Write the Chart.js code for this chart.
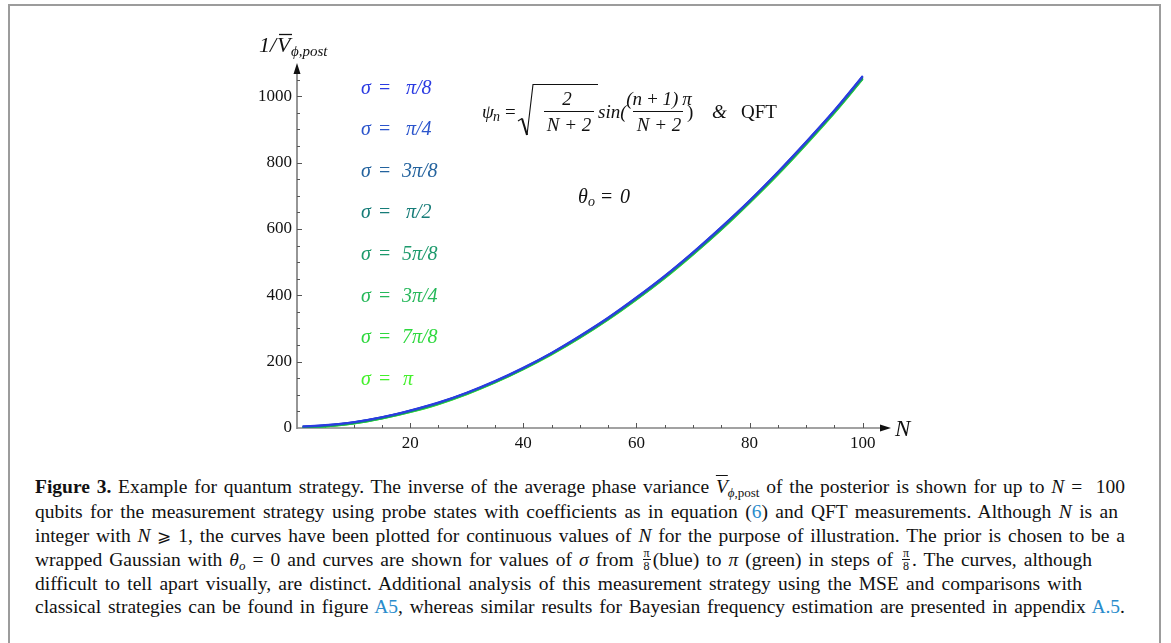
<!DOCTYPE html>
<html>
<head>
<meta charset="utf-8">
<script src="https://cdn.jsdelivr.net/npm/chart.js@4.4.1/dist/chart.umd.min.js"></script>
<style>
  html, body { margin:0; padding:0; background:#fff; width:1171px; height:643px; overflow:hidden; }
  #frame { position:absolute; left:8px; top:4px; width:1153px; height:700px; border:2px solid #9c9c9c; box-sizing:border-box; }
  #chart { position:absolute; left:0; top:0; }
  .cap { position:absolute; left:35px; font-family:"Liberation Serif", serif; font-size:19.5px; line-height:23px; color:#111;
         white-space:nowrap; text-align:justify; text-align-last:justify; }
  .cap i { font-style:italic; }
  .lk { color:#2a8ccc; }
  .ov { text-decoration:overline; font-style:italic; }
  .sub { font-size:13px; position:relative; top:4px; }
  .frac { display:inline-flex; flex-direction:column; align-items:center; vertical-align:middle; font-size:12px; line-height:12px; margin:0 2px; position:relative; top:-2px; }
  .frac span:first-child { border-bottom:1px solid #111; padding:0 1px; }
  .geq { font-family:"DejaVu Serif", serif; font-size:17px; }
</style>
</head>
<body>
<div id="frame"></div>
<canvas id="chart" width="1171" height="460"></canvas>

<div class="cap" style="top:475px;width:1090px;"><b>Figure 3.</b> Example for quantum strategy. The inverse of the average phase variance <span class="ov">V</span><span class="sub"><i>ϕ</i>,post</span> of the posterior is shown for up to <i>N</i> =&nbsp; 100</div>
<div class="cap" style="top:500px;width:1083px;">qubits for the measurement strategy using probe states with coefficients as in equation (<span class="lk">6</span>) and QFT measurements. Although <i>N</i> is an</div>
<div class="cap" style="top:524px;width:1090px;">integer with <i>N</i> <span class="geq">⩾</span> 1, the curves have been plotted for continuous values of <i>N</i> for the purpose of illustration. The prior is chosen to be a</div>
<div class="cap" style="top:548px;width:1057px;">wrapped Gaussian with <i>θ<span class="sub">o</span></i> = 0 and curves are shown for values of <i>σ</i> from <span class="frac"><span>π</span><span>8</span></span>(blue) to <i>π</i> (green) in steps of <span class="frac"><span>π</span><span>8</span></span>. The curves, although</div>
<div class="cap" style="top:572px;width:1047px;">difficult to tell apart visually, are distinct. Additional analysis of this measurement strategy using the MSE and comparisons with</div>
<div class="cap" style="top:595px;width:1090px;">classical strategies can be found in figure <span class="lk">A5</span>, whereas similar results for Bayesian frequency estimation are presented in appendix <span class="lk">A.5</span>.</div>

<script>
// ---- data ----
const N_VALUES = [1, 5, 10, 15, 20, 25, 30, 35, 40, 45, 50, 55, 60, 65, 70, 75, 80, 85, 90, 95, 100];
const SIGMA_LABELS = ['π/8', 'π/4', '3π/8', 'π/2', '5π/8', '3π/4', '7π/8', 'π'];
const SIGMA_COLORS = ['#2b3be2', '#2c55cc', '#24639e', '#167c78', '#1c9a6c', '#26b85a', '#2ed83e', '#44f02c'];
const sigmaPi8  = [5, 9, 18, 33, 53, 77, 107, 142, 182, 227, 278, 333, 394, 459, 530, 606, 686, 772, 863, 958, 1061];
const sigmaPi4  = [4.5, 8.5, 17.5, 32.5, 52.5, 76.5, 106, 141, 181, 226, 277, 332, 393, 458, 529, 605, 685, 771, 862, 957, 1060];
const sigma3Pi8 = [4, 8, 17, 32, 52, 76, 105.5, 140.5, 180.5, 225.5, 276, 331, 392, 457, 528, 604, 684, 770, 861, 956, 1059];
const sigmaPi2  = [3, 7, 16, 31, 51, 75, 105, 140, 180, 225, 275, 330, 391, 456, 527, 602, 683, 769, 860, 955, 1057];
const sigma5Pi8 = [2, 6, 15, 30, 50, 74, 104, 139, 179, 224, 274, 329, 390, 455, 525, 601, 681, 767, 858, 953, 1055];
const sigma3Pi4 = [1, 5, 14, 29, 49, 73, 103, 138, 178, 223, 273, 328, 388, 453, 524, 599, 680, 765, 856, 951, 1053];
const sigma7Pi8 = [0.5, 4.5, 13.5, 28.5, 48, 72, 102, 137, 177, 222, 272, 327, 387, 452, 523, 598, 679, 764, 855, 950, 1052];
const sigmaPi   = [0, 4, 13, 28, 47.5, 71.5, 101.5, 136.5, 176.5, 221, 271, 326, 386.5, 451, 522, 597, 678, 763, 854, 949, 1051];
const SERIES = [sigmaPi8, sigmaPi4, sigma3Pi8, sigmaPi2, sigma5Pi8, sigma3Pi4, sigma7Pi8, sigmaPi];
const X_TICKS = [20, 40, 60, 80, 100];
const Y_TICKS = [0, 200, 400, 600, 800, 1000];
const X_MAX = 105, Y_MAX = 1100;

const SERIF = '"Liberation Serif", "Times New Roman", serif';

const datasets = SERIES.map((vals, i) => ({
  label: 'σ = ' + SIGMA_LABELS[i],
  data: N_VALUES.map((n, k) => ({ x: n, y: vals[k] })),
  borderColor: SIGMA_COLORS[i],
  borderWidth: 1.8,
  pointRadius: 0,
  tension: 0.35,
  fill: false
}));

function txt(ctx, s, x, y, font, color, align) {
  ctx.font = font; ctx.fillStyle = color || '#111'; ctx.textAlign = align || 'left'; ctx.textBaseline = 'alphabetic';
  ctx.fillText(s, x, y);
}

const axesPlugin = {
  id: 'mathAxes',
  beforeDatasetsDraw(chart) {
    const { ctx, scales: { x, y } } = chart;
    const x0 = x.getPixelForValue(0), y0 = y.getPixelForValue(0);
    const xEnd = x.getPixelForValue(X_MAX), yTop = y.getPixelForValue(Y_MAX);
    ctx.save();
    ctx.strokeStyle = '#848484'; ctx.lineWidth = 1.7;
    ctx.beginPath();
    ctx.moveTo(x0, y0); ctx.lineTo(xEnd - 8, y0);
    ctx.moveTo(x0, y0 + 1); ctx.lineTo(x0, yTop + 8);
    ctx.stroke();
    ctx.strokeStyle = '#555'; ctx.lineWidth = 1;
    ctx.beginPath();
    for (let v = 5; v <= 100; v += 5) {
      const px = Math.round(x.getPixelForValue(v)) + 0.5;
      const len = X_TICKS.includes(v) ? 5 : 3;
      ctx.moveTo(px, y0); ctx.lineTo(px, y0 - len);
    }
    for (let v = 50; v <= 1050; v += 50) {
      const py = Math.round(y.getPixelForValue(v)) + 0.5;
      const len = Y_TICKS.includes(v) ? 5 : 3;
      ctx.moveTo(x0, py); ctx.lineTo(x0 + len, py);
    }
    ctx.stroke();
    ctx.fillStyle = '#111';
    ctx.beginPath();
    ctx.moveTo(xEnd, y0); ctx.lineTo(xEnd - 11, y0 - 3.5); ctx.lineTo(xEnd - 11, y0 + 3.5); ctx.closePath();
    ctx.moveTo(x0, yTop); ctx.lineTo(x0 - 3.5, yTop + 11); ctx.lineTo(x0 + 3.5, yTop + 11); ctx.closePath();
    ctx.fill();
    ctx.restore();
  },
  afterDraw(chart) {
    const { ctx } = chart;
    ctx.save();
    const it = 'italic 19px ' + SERIF;
    const itS = 'italic 14px ' + SERIF;
    const up = '19px ' + SERIF;
    // axis titles
    txt(ctx, '1/', 259, 52, 'italic 22px ' + SERIF, '#111');
    txt(ctx, 'V', 277, 52, 'italic 22px ' + SERIF, '#111');
    ctx.strokeStyle = '#111'; ctx.lineWidth = 1.3;
    ctx.beginPath(); ctx.moveTo(279, 34.5); ctx.lineTo(292, 34.5); ctx.stroke();
    txt(ctx, 'ϕ,post', 291, 56, 'italic 15px ' + SERIF, '#111');
    txt(ctx, 'N', 895, 436, 'italic 23px ' + SERIF, '#111');
    // sigma labels
    const ys = [94, 135, 177, 218, 260, 302, 343, 385];
    const vx = [406, 406, 402, 406, 402, 402, 402, 403];
    const f = 'italic 20px ' + SERIF;
    SIGMA_LABELS.forEach((lab, i) => {
      txt(ctx, 'σ', 361, ys[i], f, SIGMA_COLORS[i]);
      txt(ctx, '=', 379, ys[i], '20px ' + SERIF, SIGMA_COLORS[i]);
      txt(ctx, lab, vx[i], ys[i], f, SIGMA_COLORS[i]);
    });
    // formula
    const bl = 118;
    txt(ctx, 'ψ', 482, bl, it, '#111');
    txt(ctx, 'n', 493, bl + 3, itS, '#111');
    txt(ctx, '=', 505, bl, up, '#111');
    ctx.strokeStyle = '#111'; ctx.lineWidth = 1.1;
    ctx.beginPath();
    ctx.moveTo(518, 121); ctx.lineTo(522, 118.5);
    ctx.stroke();
    ctx.lineWidth = 2;
    ctx.beginPath(); ctx.moveTo(522, 118.5); ctx.lineTo(527, 135); ctx.stroke();
    ctx.lineWidth = 1.1;
    ctx.beginPath(); ctx.moveTo(527, 135); ctx.lineTo(533, 84.5); ctx.lineTo(598, 84.5); ctx.stroke();
    // fraction 1
    txt(ctx, '2', 567, 105, it, '#111', 'center');
    ctx.beginPath(); ctx.moveTo(544, 111.5); ctx.lineTo(594, 111.5); ctx.stroke();
    txt(ctx, 'N + 2', 569, 131, it, '#111', 'center');
    txt(ctx, 'sin(', 598, bl, it, '#111');
    // fraction 2
    txt(ctx, '(n\u2009+\u20091)\u2009π', 659, 105, it, '#111', 'center');
    ctx.beginPath(); ctx.moveTo(633, 111.5); ctx.lineTo(683, 111.5); ctx.stroke();
    txt(ctx, 'N + 2', 659, 131, it, '#111', 'center');
    txt(ctx, ')', 687, bl, up, '#111');
    txt(ctx, '&', 712, bl, it, '#111');
    txt(ctx, 'QFT', 741, bl, up, '#111');
    // theta
    txt(ctx, 'θ', 578, 203, 'italic 20px ' + SERIF, '#111');
    txt(ctx, 'o', 588, 206, itS, '#111');
    txt(ctx, '=', 601, 203, '20px ' + SERIF, '#111');
    txt(ctx, '0', 620, 203, 'italic 20px ' + SERIF, '#111');
    ctx.restore();
  }
};

new Chart(document.getElementById('chart'), {
  type: 'line',
  data: { datasets },
  options: {
    responsive: false,
    animation: false,
    devicePixelRatio: 1,
    layout: { padding: { left: 257, top: 63, right: 280, bottom: 2 } },
    plugins: { legend: { display: false }, tooltip: { enabled: false } },
    scales: {
      x: {
        type: 'linear', min: 0, max: X_MAX,
        afterBuildTicks(scale) { scale.ticks = X_TICKS.map(v => ({ value: v })); },
        afterFit(scale) { scale.height = 30; },
        grid: { display: false, drawTicks: false },
        border: { display: false },
        ticks: { padding: 5, color: '#111', font: { family: SERIF, size: 17 }, maxRotation: 0, callback: v => String(v) }
      },
      y: {
        type: 'linear', min: 0, max: Y_MAX,
        afterBuildTicks(scale) { scale.ticks = Y_TICKS.map(v => ({ value: v })); },
        afterFit(scale) { scale.width = 40; },
        grid: { display: false, drawTicks: false },
        border: { display: false },
        ticks: { padding: 5, color: '#111', font: { family: SERIF, size: 17 }, callback: v => String(v) }
      }
    }
  },
  plugins: [axesPlugin]
});
</script>
</body>
</html>
